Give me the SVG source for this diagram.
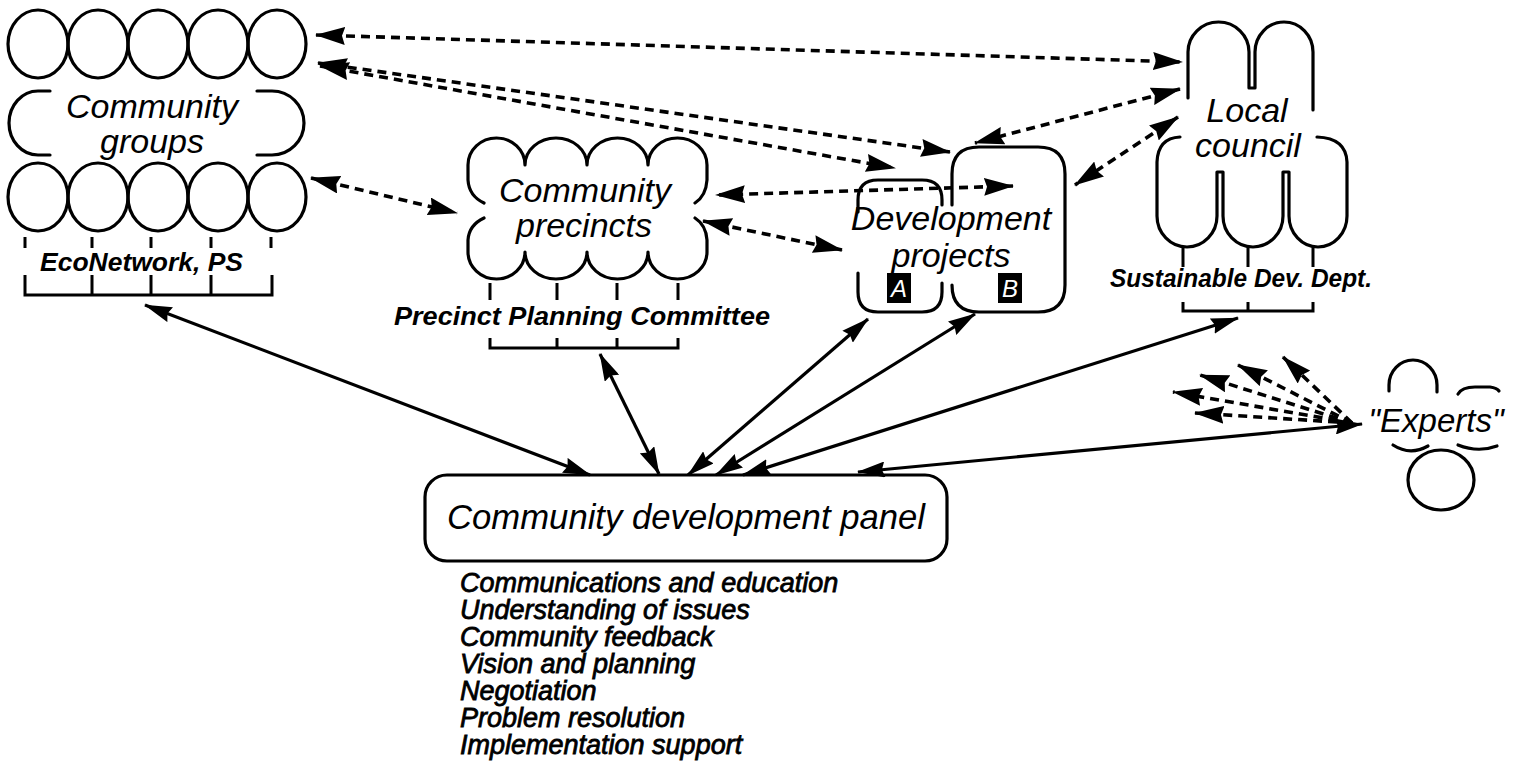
<svg xmlns="http://www.w3.org/2000/svg" width="1524" height="772" viewBox="0 0 1524 772">
<style>
.o{fill:none;stroke:#000;stroke-width:3.2;stroke-linecap:round;stroke-linejoin:round}
.t{fill:none;stroke:#000;stroke-width:3}
.lbl{font-family:"Liberation Sans",Arial,Helvetica,sans-serif;font-style:italic;font-size:34px;text-anchor:middle;fill:#000}
.bl{font-family:"Liberation Sans",Arial,Helvetica,sans-serif;font-style:italic;font-weight:bold;font-size:25px;fill:#000}
.lst{font-family:"Liberation Sans",Arial,Helvetica,sans-serif;font-style:italic;font-size:27px;fill:#000;stroke:#000;stroke-width:0.8}
.dash{fill:none;stroke:#000;stroke-width:3.6;stroke-dasharray:9 6}
.sol{fill:none;stroke:#000;stroke-width:3.2}
.ab{fill:#000}
.abt{font-family:"Liberation Sans",Arial,Helvetica,sans-serif;font-style:italic;font-size:24px;fill:#fff;text-anchor:middle}
</style>
<defs>
<marker id="ahd" viewBox="0 0 30 18" refX="29" refY="9" markerWidth="30" markerHeight="18" markerUnits="userSpaceOnUse" orient="auto-start-reverse"><path d="M0,0 L30,9 L0,18 L3,9 z" fill="#000"/></marker>
<marker id="ahs" viewBox="0 0 28 16" refX="27" refY="8" markerWidth="28" markerHeight="16" markerUnits="userSpaceOnUse" orient="auto-start-reverse"><path d="M0,0 L28,8 L0,16 L3,8 z" fill="#000"/></marker>
</defs>
<rect width="1524" height="772" fill="#fff"/>

<g id="connectors">
<line class="dash" x1="316" y1="35" x2="1182" y2="62" marker-start="url(#ahd)" marker-end="url(#ahd)"/>
<line class="dash" x1="318" y1="63" x2="950" y2="152" marker-start="url(#ahd)" marker-end="url(#ahd)"/>
<line class="dash" x1="320" y1="66" x2="895" y2="168" marker-start="url(#ahd)" marker-end="url(#ahd)"/>
<line class="dash" x1="1180" y1="89" x2="975" y2="143" marker-start="url(#ahd)" marker-end="url(#ahd)"/>
<line class="dash" x1="1178" y1="117" x2="1075" y2="185" marker-start="url(#ahd)" marker-end="url(#ahd)"/>
<line class="dash" x1="311" y1="178" x2="457" y2="213" marker-start="url(#ahd)" marker-end="url(#ahd)"/>
<line class="dash" x1="1013" y1="186" x2="716" y2="195" marker-start="url(#ahd)" marker-end="url(#ahd)"/>
<line class="dash" x1="703" y1="221" x2="842" y2="250" marker-start="url(#ahd)" marker-end="url(#ahd)"/>
<line class="dash" x1="1352" y1="423" x2="1173" y2="392" marker-end="url(#ahd)"/>
<line class="dash" x1="1352" y1="423" x2="1195" y2="413" marker-end="url(#ahd)"/>
<line class="dash" x1="1352" y1="423" x2="1200" y2="375" marker-end="url(#ahd)"/>
<line class="dash" x1="1352" y1="423" x2="1238" y2="365" marker-end="url(#ahd)"/>
<line class="dash" x1="1352" y1="423" x2="1283" y2="357" marker-end="url(#ahd)"/>
<line class="sol" x1="145" y1="305" x2="590" y2="475" marker-start="url(#ahs)" marker-end="url(#ahs)"/>
<line class="sol" x1="600" y1="354" x2="659" y2="474" marker-start="url(#ahs)" marker-end="url(#ahs)"/>
<line class="sol" x1="868" y1="319" x2="688" y2="475" marker-start="url(#ahs)" marker-end="url(#ahs)"/>
<line class="sol" x1="975" y1="314" x2="716" y2="475" marker-start="url(#ahs)" marker-end="url(#ahs)"/>
<line class="sol" x1="1238" y1="318" x2="743" y2="475" marker-start="url(#ahs)" marker-end="url(#ahs)"/>
<line class="sol" x1="858" y1="472" x2="1362" y2="424" marker-start="url(#ahs)" marker-end="url(#ahs)"/>
</g>

<g id="community-groups">
<ellipse class="o" cx="38" cy="44" rx="30" ry="34"/>
<ellipse class="o" cx="98" cy="44" rx="30" ry="34"/>
<ellipse class="o" cx="158" cy="44" rx="30" ry="34"/>
<ellipse class="o" cx="218" cy="44" rx="30" ry="34"/>
<ellipse class="o" cx="277" cy="44" rx="29" ry="34"/>
<path class="o" d="M50 91 L38 91 A29 32 0 0 0 38 155 L50 155"/>
<path class="o" d="M257 91 L272 91 A32 32 0 0 1 272 155 L257 155"/>
<text class="lbl" x="152" y="118">Community</text>
<text class="lbl" x="152" y="153">groups</text>
<ellipse class="o" cx="38" cy="197" rx="30" ry="34"/>
<ellipse class="o" cx="98" cy="197" rx="30" ry="34"/>
<ellipse class="o" cx="158" cy="197" rx="30" ry="34"/>
<ellipse class="o" cx="218" cy="197" rx="30" ry="34"/>
<ellipse class="o" cx="277" cy="197" rx="29" ry="34"/>
<path class="t" d="M25 237V248M92 237V248M151 237V248M211 237V248M271 237V248"/>
<text class="bl" x="40" y="271" textLength="203" lengthAdjust="spacingAndGlyphs">EcoNetwork, PS</text>
<path class="t" d="M25 275V295H272V275M92 275V295M151 275V295M211 275V295"/>
</g>

<g id="community-precincts">
<path class="o" d="M484 203 Q469 196 468 180 L468 165 A28.5 27 0 0 1 525 165 A31 27 0 0 1 587 165 A30.5 27 0 0 1 648 165 A29.5 27 0 0 1 707 165 L707 180 Q706 196 695 203"/>
<path class="o" d="M484 218 Q469 225 468 240 L468 252 A28.5 27 0 0 0 525 252 A31 27 0 0 0 587 252 A30.5 27 0 0 0 648 252 A29.5 27 0 0 0 707 252 L707 240 Q706 225 695 218"/>
<text class="lbl" x="585" y="202">Community</text>
<text class="lbl" x="584" y="237">precincts</text>
<path class="t" d="M490 283V300M557 283V300M617 283V300M678 283V300"/>
<text class="bl" x="394" y="325" textLength="376" lengthAdjust="spacingAndGlyphs">Precinct Planning Committee</text>
<path class="t" d="M490 338V348H678V338M557 338V348M617 338V348"/>
</g>

<g id="development-projects">
<path class="o" d="M952 205 L952 174 Q952 147 979 147 L1038 147 Q1065 147 1065 174 L1065 285 Q1065 312 1038 312 L979 312 Q952 312 952 285"/>
<path class="o" d="M858 212 L858 200 Q858 180 878 180 L922 180 Q942 180 942 200 L942 205"/>
<path class="o" d="M858 273 L858 292 Q858 312 878 312 L922 312 Q942 312 942 292 L942 283"/>
<text class="lbl" x="951" y="230">Development</text>
<text class="lbl" x="951" y="267">projects</text>
<rect class="ab" x="887" y="273" width="24" height="30"/>
<text class="abt" x="899" y="297">A</text>
<rect class="ab" x="998" y="273" width="24" height="30"/>
<text class="abt" x="1010" y="297">B</text>
</g>

<g id="local-council">
<path class="o" d="M1188 98 L1188 52 A30.5 30 0 0 1 1249 52 L1249 88 L1255 88 L1255 52 A29 30 0 0 1 1313 52 L1313 110"/>
<path class="o" d="M1180 137 Q1158 138 1157 162 L1157 216 A30 31 0 0 0 1217 216 L1217 172 L1223 172 L1223 216 A30 31 0 0 0 1283 216 L1283 172 L1289 172 L1289 216 A29 31 0 0 0 1347 216 L1347 162 Q1346 138 1317 137"/>
<text class="lbl" x="1247" y="122">Local</text>
<text class="lbl" x="1248" y="157">council</text>
<path class="t" d="M1183 248V267M1248 248V267M1313 248V267"/>
<text class="bl" x="1110" y="287" textLength="262" lengthAdjust="spacingAndGlyphs">Sustainable Dev. Dept.</text>
<path class="t" d="M1183 302V311H1313V302M1248 302V311"/>
</g>

<g id="experts">
<path class="o" d="M1389 391 L1389 385 A24 25 0 0 1 1437 385 L1437 392"/>
<path class="o" d="M1458 394 Q1462 387 1475 387 L1490 387 Q1497 388 1499 391"/>
<path class="o" d="M1393 445 Q1410 456 1428 446"/>
<path class="o" d="M1458 445 Q1478 453 1497 446"/>
<ellipse class="o" cx="1441" cy="480" rx="33" ry="30"/>
<text class="lbl" x="1436" y="432" style="font-size:33px">"Experts"</text>
</g>

<g id="community-development-panel">
<rect class="o" x="425" y="475" width="522" height="86" rx="22"/>
<text class="lbl" x="686" y="529" style="font-size:35px" textLength="478" lengthAdjust="spacingAndGlyphs">Community development panel</text>
</g>

<g id="panel-functions">
<text class="lst" x="460" y="592">Communications and education</text>
<text class="lst" x="460" y="619">Understanding of issues</text>
<text class="lst" x="460" y="646">Community feedback</text>
<text class="lst" x="460" y="673">Vision and planning</text>
<text class="lst" x="460" y="700">Negotiation</text>
<text class="lst" x="460" y="727">Problem resolution</text>
<text class="lst" x="460" y="754">Implementation support</text>
</g>
</svg>
